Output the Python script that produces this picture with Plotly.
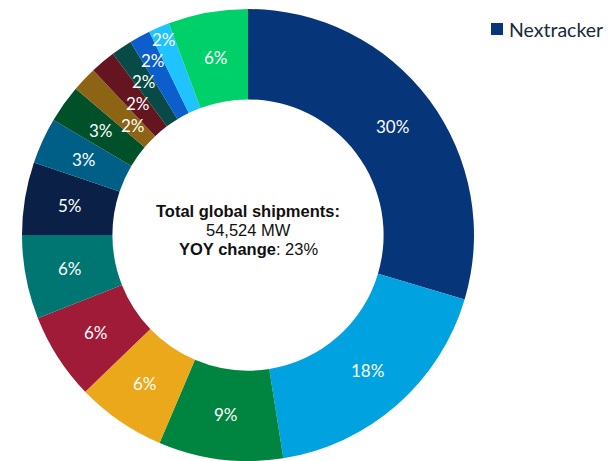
import numpy as np
import plotly.graph_objects as go

# Share of global tracker shipments by supplier (percent of total)
suppliers = [
    "Nextracker", "Array Technologies", "PV Hardware", "Arctech", "Soltec",
    "GameChange Solar", "STI Norland", "Trina Solar", "Ideematec", "Convert Italia",
    "Arctech Solar", "Schletter", "FTC Solar", "Gonvarri", "Others",
]
shares = [29.6, 17.9, 8.9, 6.4, 6.2, 6.0, 5.2, 3.3, 2.7, 1.8, 1.8, 1.5, 1.5, 1.5, 5.7]
slice_colors = [
    "#06357A", "#00A3E0", "#008540", "#EAA81A", "#A01B37",
    "#007672", "#0B2046", "#005F87", "#00502A", "#8C6414",
    "#641520", "#084A45", "#0B5ECC", "#1EC3FF", "#00D06A",
]

total_mw = "54,524 MW"
yoy_change = "23%"
center_lines = [
    "<b>Total global shipments:</b>",
    total_mw,
    f"<b>YOY change</b>: {yoy_change}",
]

W, H = 610, 461
HOLE = 0.6
DOMAIN_X = [0, 496 / W]
DOMAIN_Y = [0, 1 - 9 / H]

# Label distance from the centre as a fraction of the outer radius:
# mid-ring by default, staggered for the thin slices so they stay legible.
label_radius = [0.8] * len(shares)
for idx, r in zip([9, 10, 11, 12, 13], [0.70, 0.757, 0.82, 0.88, 0.94]):
    label_radius[idx] = r

fig = go.Figure()
fig.add_trace(go.Pie(
    labels=suppliers,
    values=shares,
    textinfo="none",
    hole=HOLE,
    sort=False,
    direction="clockwise",
    rotation=0,
    marker=dict(colors=slice_colors, line=dict(width=0)),
    domain=dict(x=DOMAIN_X, y=DOMAIN_Y),
    showlegend=False,
))

# Percentage labels at each slice's mid-angle
vals = np.array(shares, dtype=float)
frac = vals / vals.sum()
mid_angle = 2 * np.pi * (np.cumsum(frac) - frac / 2)  # clockwise from 12 o'clock
cx_px = (DOMAIN_X[0] + DOMAIN_X[1]) / 2 * W
cy_px = (DOMAIN_Y[0] + DOMAIN_Y[1]) / 2 * H
R_px = min((DOMAIN_X[1] - DOMAIN_X[0]) * W, (DOMAIN_Y[1] - DOMAIN_Y[0]) * H) / 2
for f, a, rf in zip(frac, mid_angle, label_radius):
    x_px = cx_px + rf * R_px * np.sin(a)
    y_px = cy_px + rf * R_px * np.cos(a)
    fig.add_annotation(
        x=x_px / W, y=y_px / H, xref="paper", yref="paper",
        xanchor="center", yanchor="middle",
        text=f"{f * 100:.0f}%", showarrow=False,
        font=dict(family="Lato", size=17, color="white"),
    )

# Summary text in the doughnut hole, one annotation per line for tight spacing
for i, line in enumerate(center_lines):
    fig.add_annotation(
        x=248 / W, y=1 - (211 + 19 * i) / H, xref="paper", yref="paper",
        xanchor="center", yanchor="middle",
        text=line, showarrow=False,
        font=dict(family="Liberation Sans", size=16.5, color="#111111"),
    )

# Legend entry for the leading supplier
fig.add_shape(
    type="rect", xref="paper", yref="paper",
    x0=491 / W, x1=503 / W, y0=1 - 35 / H, y1=1 - 23 / H,
    fillcolor=slice_colors[0], line=dict(width=0),
)
fig.add_annotation(
    x=507 / W, y=1 - 29.5 / H, xref="paper", yref="paper",
    xanchor="left", yanchor="middle",
    text=suppliers[0], showarrow=False,
    font=dict(family="Lato", size=19.5, color="#1a2a3a"),
)

fig.update_layout(
    width=W, height=H,
    margin=dict(l=0, r=0, t=0, b=0),
    paper_bgcolor="white", plot_bgcolor="white",
)

fig.write_html("out.html")
